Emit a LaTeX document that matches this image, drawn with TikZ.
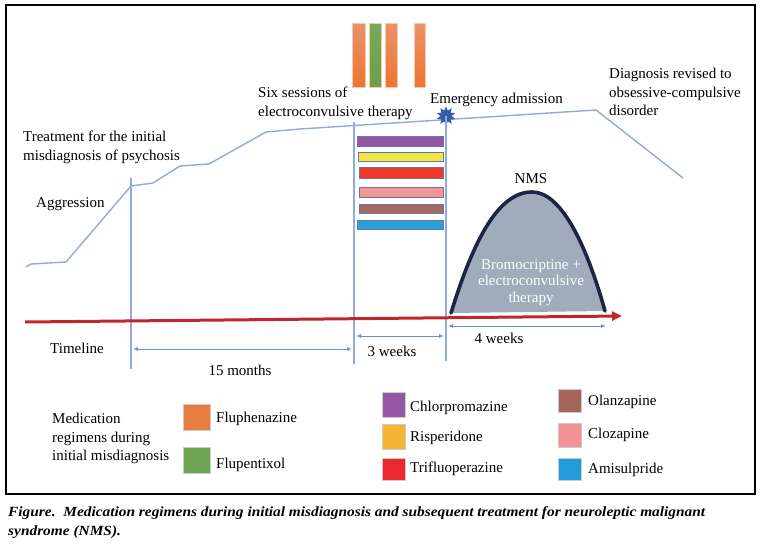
\documentclass[tikz,border=0pt]{standalone}
\usepackage{fontspec}
\setmainfont{Liberation Serif}
\usetikzlibrary{shapes.geometric,arrows.meta,calc}
\definecolor{curveblue}{RGB}{143,170,220}
\definecolor{dimblue}{RGB}{105,145,205}
\definecolor{tlred}{RGB}{192,38,44}
\definecolor{orT}{RGB}{236,145,105}
\definecolor{orB}{RGB}{237,118,48}
\definecolor{orE}{RGB}{248,200,170}
\definecolor{grT}{RGB}{118,170,88}
\definecolor{grB}{RGB}{106,160,76}
\definecolor{barpurple}{RGB}{148,85,165}
\definecolor{baryellow}{RGB}{236,232,72}
\definecolor{barred}{RGB}{236,56,40}
\definecolor{barpink}{RGB}{242,150,152}
\definecolor{barbrown}{RGB}{165,105,95}
\definecolor{barblue}{RGB}{40,160,220}
\definecolor{barline}{RGB}{110,118,160}
\definecolor{starblue}{RGB}{52,92,170}
\definecolor{humpfill}{RGB}{160,172,188}
\definecolor{humpline}{RGB}{28,38,68}
\definecolor{lgorange}{RGB}{232,125,65}
\definecolor{lggreen}{RGB}{110,165,80}
\definecolor{lgpurple}{RGB}{150,85,165}
\definecolor{lgyellow}{RGB}{245,180,50}
\definecolor{lgred}{RGB}{235,40,45}
\definecolor{lgbrown}{RGB}{165,100,90}
\definecolor{lgpink}{RGB}{242,145,150}
\definecolor{lgblue}{RGB}{35,155,220}
\newsavebox\capboxA
\begin{document}
\sbox\capboxA{\fontsize{14}{17}\selectfont\bfseries\itshape Figure.\ \ Medication regimens during initial misdiagnosis and subsequent treatment for neuroleptic malignant}%
\begin{tikzpicture}[x=1pt,y=-1pt,
  every node/.style={inner sep=0pt, font=\fontsize{15}{18.5}\selectfont},
  lbl/.style={anchor=base west},
  mlbl/.style={anchor=north west, align=left},
  curveline/.style={draw=curveblue, line width=1.4pt, line join=round},
  vline/.style={draw=curveblue, line width=1.2pt},
  dimarrow/.style={draw=dimblue, line width=1pt, {Latex[length=5pt,width=4pt]}-{Latex[length=5pt,width=4pt]}},
  vbar/.style={draw=orE, line width=0.6pt},
  hbar/.style={draw=barline, line width=0.7pt},
  swatch/.style={minimum width=24pt, minimum height=24pt, draw=white!80!black, line width=0.6pt}]
\useasboundingbox (0,0) rectangle (763,549);
\draw[line width=1.2pt] (6,5) rectangle (755,494);

% top vertical bars (ECT sessions)
\shade[vbar, top color=orT, bottom color=orB] (352,23) rectangle (365,87);
\shade[vbar, top color=grT, bottom color=grB] (369,23) rectangle (381,87);
\shade[vbar, top color=orT, bottom color=orB] (385,23) rectangle (397,87);
\shade[vbar, top color=orT, bottom color=orB] (414,23) rectangle (425,87);

% course curve
\coordinate (p1) at (26,267);
\coordinate (p2) at (31,264);
\coordinate (p3) at (66,262);
\coordinate (p4) at (131,186);
\coordinate (p5) at (153,183);
\coordinate (p6) at (180,166);
\coordinate (p7) at (209,164);
\coordinate (p8) at (266,132);
\coordinate (p9) at (300,129);
\coordinate (p10) at (596,110);
\coordinate (p11) at (683,178);
\draw[curveline] (p1) -- (p2) -- (p3) -- (p4) -- (p5) -- (p6) -- (p7) -- (p8) -- (p9) -- (p10) -- (p11);

% vertical markers
\coordinate (v1t) at (131,178);
\coordinate (v1b) at (131,369);
\coordinate (v2t) at (354,122);
\coordinate (v2b) at (354,364);
\coordinate (v3b) at (446,361);
\draw[vline] (v1t) -- (v1b);
\draw[vline] (v2t) -- (v2b);

% star
\node[star, star points=10, star point ratio=1.7, minimum size=18pt, fill=starblue, draw=starblue] (star) at (446,116) {};
\draw[vline] (star.center) -- (v3b);

% horizontal medication bars
\filldraw[hbar, fill=barpurple] (357,136) rectangle (443,146);
\filldraw[hbar, fill=baryellow] (358,152) rectangle (443,161);
\filldraw[hbar, fill=barred] (359,167) rectangle (443,178);
\filldraw[hbar, fill=barpink] (359,187) rectangle (443,197);
\filldraw[hbar, fill=barbrown] (359,204) rectangle (443,213);
\filldraw[hbar, fill=barblue] (357,220) rectangle (443,229);

% NMS hump
\fill[humpfill] (451,313) .. controls (475,235) and (500,192) .. (532,192) .. controls (560,192) and (585,240) .. (605,311) -- cycle;
\draw[humpline, line width=3.6pt, line cap=round] (451,313) .. controls (475,235) and (500,192) .. (532,192) .. controls (560,192) and (585,240) .. (605,311);
\node[anchor=base] (nms) at (531,183) {NMS};
\node[anchor=north, align=center, text=white, font=\fontsize{15}{16.5}\selectfont] (bromo) at (531,259) {Bromocriptine +\\electroconvulsive\\therapy};

% timeline
\coordinate (tl0) at (25,322);
\coordinate (tl1) at (622,316);
\draw[tlred, line width=3pt, -{Triangle[length=10pt,width=9pt]}] (tl0) -- (tl1);

% dimension arrows
\coordinate (d1a) at (133,349);
\coordinate (d1b) at (352,349);
\coordinate (d2a) at (356,336);
\coordinate (d2b) at (444,336);
\coordinate (d3a) at (448,326);
\coordinate (d3b) at (606,326);
\draw[dimarrow] (d1a) -- (d1b);
\draw[dimarrow] (d2a) -- (d2b);
\draw[dimarrow] (d3a) -- (d3b);

% labels
\node[mlbl] (treat) at (23,131) {Treatment for the initial\\misdiagnosis of psychosis};
\node[lbl] (aggr) at (36,207) {Aggression};
\node[mlbl] (ect) at (258,87) {Six sessions of\\electroconvulsive therapy};
\node[lbl] (emerg) at (430,103) {Emergency admission};
\node[mlbl] (diag) at (609,68) {Diagnosis revised to\\obsessive-compulsive\\disorder};
\node[anchor=base] (timeline) at (77,353) {Timeline};
\node[anchor=base] (m15) at (240,375) {15 months};
\node[anchor=base] (w3) at (392,356) {3 weeks};
\node[anchor=base] (w4) at (499,343) {4 weeks};

% legend
\node[mlbl] (medreg) at (52,413) {Medication\\regimens during\\initial misdiagnosis};
\node[swatch, fill=lgorange, minimum width=27pt, minimum height=26pt] (sw1) at (197,417) {};
\node[lbl] (t1) at (216,422) {Fluphenazine};
\node[swatch, fill=lggreen, minimum width=27pt, minimum height=26pt] (sw2) at (197,460) {};
\node[lbl] (t2) at (216,468) {Flupentixol};
\node[swatch, fill=lgpurple, minimum width=23pt, minimum height=25pt] (sw3) at (394,405) {};
\node[lbl] (t3) at (410,411) {Chlorpromazine};
\node[swatch, fill=lgyellow, minimum width=23pt, minimum height=25pt] (sw4) at (394,437) {};
\node[lbl] (t4) at (410,441) {Risperidone};
\node[swatch, fill=lgred, minimum width=23pt, minimum height=22pt] (sw5) at (394,469) {};
\node[lbl] (t5) at (410,472) {Trifluoperazine};
\node[swatch, fill=lgbrown, minimum width=23pt, minimum height=23pt] (sw6) at (570,401) {};
\node[lbl] (t6) at (588,405) {Olanzapine};
\node[swatch, fill=lgpink, minimum width=23pt, minimum height=24pt] (sw7) at (570,435) {};
\node[lbl] (t7) at (588,438) {Clozapine};
\node[swatch, fill=lgblue, minimum width=23pt, minimum height=22pt] (sw8) at (570,469) {};
\node[lbl] (t8) at (588,473) {Amisulpride};

% caption
\pgfmathsetmacro\capscale{697/\the\wd\capboxA}
\node[lbl] (cap1) at (8,516) {\scalebox{\capscale}[1]{\usebox\capboxA}};
\node[lbl] (cap2) at (8,535) {\scalebox{\capscale}[1]{\fontsize{14}{17}\selectfont\bfseries\itshape syndrome (NMS).}};
\end{tikzpicture}
\end{document}
